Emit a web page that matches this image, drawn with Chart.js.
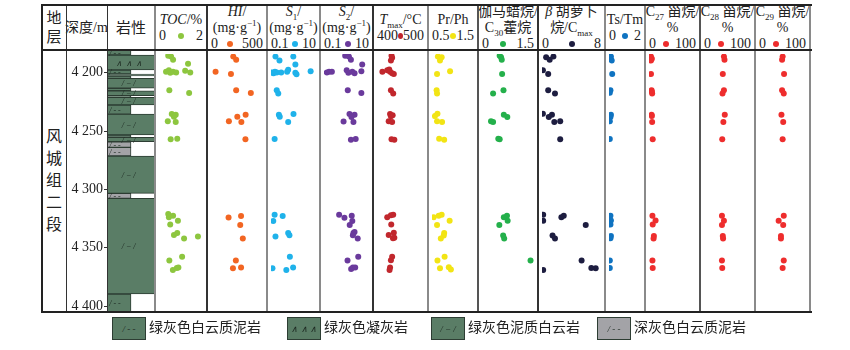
<!DOCTYPE html>
<html>
<head>
<meta charset="utf-8">
<script src="https://cdn.jsdelivr.net/npm/chart.js@4.4.1/dist/chart.umd.min.js"></script>
<style>
  body { margin: 0; background: #fff; }
  #wrap { position: relative; width: 850px; height: 350px; overflow: hidden;
          font-family: "Liberation Serif", "Noto Sans CJK SC", serif; color: #222; }
  .head { position: absolute; top: 5px; height: 45px; display: flex; flex-direction: column;
          justify-content: center; align-items: center; font-size: 14px; line-height: 16px;
          text-align: center; white-space: nowrap; }
  .scale { display: flex; justify-content: space-between; align-items: center;
           width: 100%; box-sizing: border-box; padding: 0 4px; }
  .dot { display: inline-block; width: 6px; height: 6px; border-radius: 50%; }
  sub, sup { font-size: 9px; line-height: 0; }
  canvas { position: absolute; }
  .ln { position: absolute; z-index: 5; }
  .sw { position: absolute; top: 317px; width: 34px; height: 23px; box-sizing: border-box;
        border: 1px solid #2d3d33; font: italic 9px "Liberation Serif"; color: #1d2a22;
        display: flex; align-items: center; justify-content: center; }
  .lt { position: absolute; top: 320px; font-size: 14px; line-height: 16px; }
</style>
</head>
<body>
<div id="wrap"></div>
<script>
// 深度范围与刻度
const depthMin = 4180.5;
const depthMax = 4405;
const depthTicks = [4200, 4250, 4300, 4350, 4400];

// 岩性分层（顶深、底深、岩性代码）
const litTop  = [4180.5, 4184.8, 4197.6, 4201.1, 4202.8, 4204.8, 4213.3, 4215.4, 4219.7, 4221.0,
                 4227.6, 4235.4, 4253.3, 4255.3, 4259.1, 4263.9, 4271.3, 4303.3, 4307.6, 4389.6];
const litBase = [4184.8, 4197.6, 4201.1, 4202.8, 4204.8, 4213.3, 4215.4, 4219.7, 4221.0, 4227.6,
                 4235.4, 4253.3, 4255.3, 4259.1, 4263.9, 4271.3, 4303.3, 4307.6, 4389.6, 4406];
const litType = ['A','B','A','C','A','C','A','C','A','C','A','C','A','C','D','D','C','D','C','A'];
const litNames = { A: '绿灰色白云质泥岩', B: '绿灰色凝灰岩', C: '绿灰色泥质白云岩', D: '深灰色白云质泥岩' };

// 各参数 [数值, 深度]
const toc = [[0.42,4182.0],[0.55,4182.8],[0.64,4185.6],[1.32,4189.1],[0.32,4196.2],[0.45,4194.8],[0.51,4197.0],
  [0.64,4196.2],[0.78,4196.8],[1.19,4195.3],[1.42,4196.8],[0.47,4212.5],[1.37,4215.0],[0.58,4233.6],[0.68,4235.9],
  [0.76,4234.2],[0.40,4239.9],[0.76,4240.5],[0.53,4255.9],[0.83,4255.3],[0.42,4321.9],[0.45,4324.7],[0.64,4323.4],
  [0.51,4331.3],[0.86,4327.9],[0.68,4340.5],[0.83,4338.8],[1.14,4343.6],[1.77,4341.9],[0.47,4363.1],[1.05,4359.6],
  [0.63,4371.4],[0.81,4369.6],[0.88,4369.3]];
const hi = [[214,4182.8],[242,4185.6],[44,4196.2],[192,4198.2],[242,4212.5],[383,4215.0],[253,4235.9],[333,4234.2],
  [172,4239.9],[292,4240.5],[331,4255.9],[169,4325.1],[289,4323.6],[281,4331.6],[306,4343.6],[239,4363.1],
  [211,4369.9],[289,4369.3]];
const s1 = [[0.158,4182.8],[0.238,4186.2],[0.98,4182.8],[1.21,4189.7],[0.112,4196.8],[0.13,4197.6],[0.15,4196.2],
  [0.18,4196.8],[0.284,4196.8],[0.52,4196.2],[0.58,4194.5],[1.21,4197.0],[1.36,4198.5],[5.78,4195.7],[0.18,4212.5],
  [0.21,4215.4],[0.224,4234.2],[0.245,4235.9],[1.0,4233.6],[0.58,4240.5],[0.145,4255.7],[0.145,4322.5],[0.33,4323.6],
  [0.126,4328.2],[0.158,4341.9],[0.58,4338.8],[0.66,4340.8],[0.69,4359.6],[0.116,4369.9],[0.48,4371.4],[0.96,4369.3]];
const s2 = [[0.877,4182.0],[1.28,4182.8],[1.57,4185.6],[4.99,4189.7],[0.133,4196.8],[0.168,4196.2],[0.224,4196.2],
  [1.02,4194.8],[1.21,4197.0],[1.81,4196.2],[2.28,4197.6],[4.57,4195.7],[1.14,4212.5],[4.57,4215.0],[1.36,4233.6],
  [2.28,4234.2],[1.66,4236.2],[0.74,4240.2],[2.04,4240.5],[1.57,4256.2],[2.56,4255.7],[0.47,4322.5],[0.81,4325.3],
  [1.71,4323.4],[1.81,4328.2],[1.39,4331.6],[2.04,4338.8],[2.28,4337.9],[1.92,4340.8],[3.15,4343.6],[1.11,4363.1],
  [3.32,4359.6],[1.61,4370.5],[1.92,4369.3],[2.43,4369.3]];
const tmax = [[430.9,4182.0],[432.2,4183.9],[429.6,4186.2],[411.5,4196.2],[421.8,4194.8],[426.0,4194.2],[427.8,4196.2],
  [432.2,4197.6],[435.8,4198.2],[429.6,4212.5],[434.5,4215.4],[427.8,4233.6],[433.3,4234.7],[429.6,4235.6],
  [424.9,4239.9],[432.2,4240.5],[430.9,4255.9],[436.9,4256.2],[421.8,4324.7],[429.6,4323.0],[434.5,4322.5],
  [430.3,4331.3],[424.9,4340.5],[435.8,4338.4],[436.9,4342.8],[434.0,4343.3],[432.2,4359.6],[429.6,4362.8],
  [427.8,4369.3],[426.7,4371.4]];
const prph = [[0.64,4182.8],[0.73,4183.3],[0.69,4186.2],[0.62,4198.2],[0.93,4195.7],[0.61,4212.5],[0.62,4215.4],
  [0.63,4233.4],[0.57,4235.4],[0.62,4239.9],[0.74,4240.5],[0.67,4255.3],[0.79,4256.2],[0.54,4324.7],[0.66,4323.4],
  [0.73,4322.5],[0.62,4331.6],[0.92,4327.9],[0.79,4338.8],[0.78,4341.0],[0.71,4343.6],[0.63,4363.1],[0.80,4359.6],
  [0.69,4369.9],[0.90,4369.0],[0.95,4371.0]];
const gamma = [[0.51,4182.0],[0.55,4183.3],[0.57,4185.6],[0.58,4198.2],[0.62,4212.5],[0.32,4215.4],[0.63,4234.2],
  [0.73,4236.2],[0.26,4239.9],[0.32,4240.5],[0.47,4255.3],[0.51,4255.9],[0.63,4324.7],[0.72,4323.4],[0.74,4327.9],
  [0.50,4331.6],[0.61,4341.0],[0.64,4343.6],[1.40,4363.1]];
const carotane = [[0.56,4183.3],[1.04,4185.6],[1.55,4182.8],[0.12,4194.8],[0.84,4198.2],[0.84,4212.5],[1.76,4215.4],
  [0.12,4233.4],[0.92,4236.2],[1.35,4234.2],[1.67,4240.5],[2.47,4239.9],[2.47,4255.9],[0.16,4322.5],[0.16,4327.9],
  [2.63,4324.7],[2.95,4323.4],[5.93,4331.6],[1.43,4341.0],[1.76,4343.6],[5.37,4363.1],[0.16,4371.4],[6.69,4369.6],
  [7.28,4369.9]];
const tstm = [[0.12,4182.8],[0.09,4184.8],[0.17,4186.2],[0.20,4198.2],[0.09,4212.5],[0.05,4214.8],[0.12,4234.2],
  [0.09,4236.2],[0.05,4239.9],[0.05,4255.7],[0.09,4323.4],[0.12,4327.7],[0.09,4331.3],[0.12,4341.4],[0.09,4343.3],
  [0.05,4363.1],[0.05,4369.6]];
const c27 = [[4.2,4182.8],[6.1,4184.8],[4.2,4186.2],[4.2,4198.2],[5.5,4212.5],[6.1,4213.9],[6.7,4215.4],[5.5,4234.2],
  [6.1,4235.4],[6.7,4240.5],[7.9,4255.9],[7.3,4323.4],[14.0,4327.7],[7.9,4331.3],[10.4,4341.4],[9.7,4343.6],
  [7.3,4363.1],[7.9,4369.6]];
const c28 = [[42.4,4182.8],[43.6,4185.6],[40.0,4198.2],[42.4,4212.5],[39.4,4215.4],[44.2,4234.2],[41.2,4240.5],
  [38.8,4255.9],[38.2,4323.4],[42.4,4327.9],[38.2,4331.6],[40.0,4341.4],[40.6,4343.6],[38.2,4363.1],[38.8,4369.6]];
const c29 = [[50.3,4182.8],[49.1,4185.6],[53.3,4198.2],[49.1,4212.5],[52.7,4215.4],[47.8,4234.2],[51.5,4240.5],
  [50.3,4255.9],[52.7,4323.4],[41.8,4327.9],[51.5,4331.6],[46.7,4341.4],[46.7,4343.6],[52.7,4363.1],[50.3,4369.6]];

// 各栏标题、刻度范围与刻度标签
const panelSeries = [toc, hi, s1, s2, tmax, prph, gamma, carotane, tstm, c27, c28, c29];
const panelMin   = [0, 0, 0.1, 0.1, 400, 0.5, 0, 0, 0, 0, 0, 0];
const panelMax   = [2, 500, 10, 10, 500, 1.5, 1.5, 8, 2, 100, 100, 100];
const panelLog   = [false, false, true, true, false, false, false, false, false, false, false, false];
const scaleLabels = [['0','2'],['0','500'],['0.1','10'],['0.1','10'],['400','500'],['0.5','1.5'],
                     ['0','1.5'],['0','8'],['0','2'],['0','100'],['0','100'],['0','100']];
const panelTitles = [
  '<div><i>TOC</i>/%</div>',
  '<div><i>HI</i>/</div><div>(mg·g<sup>−1</sup>)</div>',
  '<div><i>S</i><sub>1</sub>/</div><div>(mg·g<sup>−1</sup>)</div>',
  '<div><i>S</i><sub>2</sub>/</div><div>(mg·g<sup>−1</sup>)</div>',
  '<div><i>T</i><sub>max</sub>/°C</div>',
  '<div>Pr/Ph</div>',
  '<div>伽马蜡烷/</div><div>C<sub>30</sub>藿烷</div>',
  '<div><i>β</i> 胡萝卜</div><div>烷/C<sub>max</sub></div>',
  '<div>Ts/Tm</div>',
  '<div>C<sub>27</sub> 甾烷/</div><div>%</div>',
  '<div>C<sub>28</sub> 甾烷/</div><div>%</div>',
  '<div>C<sub>29</sub> 甾烷/</div><div>%</div>'
];
const panelColors = ['#8dc63f','#f26522','#1fb2ea','#6a3a9c','#c1272d','#f2e414','#24b04b','#1d1d40',
                     '#0f73c1','#ee2d2d','#ee2d2d','#ee2d2d'];

// 版面
const edges = [155, 207, 267, 320, 373, 428, 478, 538, 605, 645, 700, 755, 810];
const plotTop = 50, plotBottom = 312, litPad = 12;
const litStyle = {
  A: { fill: '#5a7d66', pat: '/ - -', narrow: true },
  B: { fill: '#5a7d66', pat: '∧  ∧  ∧', narrow: false },
  C: { fill: '#5a7d66', pat: '/ − /', narrow: false },
  D: { fill: '#a3a3a7', pat: '/ - -', narrow: true }
};

const wrap = document.getElementById('wrap');
function add(html) { wrap.insertAdjacentHTML('beforeend', html); }

// 表头
add(`<div class="head" style="left:42px;width:24px;font-size:15px;line-height:19px;">地<br>层</div>`);
add(`<div class="head" style="left:66px;width:41px;">深度/m</div>`);
add(`<div class="head" style="left:107px;width:48px;font-size:15px;">岩性</div>`);
panelTitles.forEach((t, i) => {
  const w = edges[i + 1] - edges[i];
  add(`<div class="head" style="left:${edges[i]}px;width:${w}px;">${t}
    <div class="scale"><span>${scaleLabels[i][0]}</span><span class="dot" style="background:${panelColors[i]}"></span><span>${scaleLabels[i][1]}</span></div></div>`);
});
add(`<div class="head" style="left:42px;width:24px;top:${plotTop}px;height:${plotBottom - plotTop}px;font-size:16px;line-height:22px;">风<br>城<br>组<br>二<br>段</div>`);

// 散点栏
panelSeries.forEach((pts, i) => {
  const c = document.createElement('canvas');
  c.width = edges[i + 1] - edges[i];
  c.height = plotBottom - plotTop;
  c.style.left = edges[i] + 'px';
  c.style.top = plotTop + 'px';
  wrap.appendChild(c);
  new Chart(c, {
    type: 'scatter',
    data: { datasets: [{
      data: pts.map(p => ({ x: p[0], y: p[1] })),
      backgroundColor: panelColors[i], borderWidth: 0, pointRadius: 3, clip: 0
    }] },
    options: {
      responsive: false, animation: false, devicePixelRatio: 1,
      layout: { padding: 0 },
      plugins: { legend: { display: false }, tooltip: { enabled: false } },
      scales: {
        x: { type: panelLog[i] ? 'logarithmic' : 'linear', min: panelMin[i], max: panelMax[i], display: false },
        y: { min: depthMin, max: depthMax, reverse: true, display: false }
      }
    }
  });
});

// 岩性栏（含深度轴）
const patternPlugin = {
  id: 'litPattern',
  afterDatasetsDraw(chart) {
    const ctx = chart.ctx, area = chart.chartArea;
    ctx.save();
    ctx.beginPath();
    ctx.rect(area.left, area.top, area.right - area.left, area.bottom - area.top);
    ctx.clip();
    ctx.font = 'italic 8px "Liberation Serif"';
    ctx.fillStyle = '#1d2a22';
    ctx.textAlign = 'center';
    ctx.textBaseline = 'middle';
    chart.data.datasets.forEach((ds, i) => {
      chart.getDatasetMeta(i).data.forEach(bar => {
        const y1 = Math.max(Math.min(bar.y, bar.base), area.top);
        const y2 = Math.min(Math.max(bar.y, bar.base), area.bottom);
        if (y2 - y1 < 4) return;
        const x = ds.xAxisID === 'xn' ? bar.x : area.left + (area.right - area.left) * 0.45;
        ctx.fillText(ds.pattern, x, (y1 + y2) / 2 + 1);
      });
    });
    ctx.restore();
  }
};

const litDatasets = Object.keys(litStyle).map(code => {
  const st = litStyle[code];
  const data = [];
  litType.forEach((t, k) => {
    if (t === code) data.push({ x: st.narrow ? 'n1' : '岩性', y: [litTop[k], litBase[k]] });
  });
  return {
    label: litNames[code], data, pattern: st.pat,
    xAxisID: st.narrow ? 'xn' : 'x',
    backgroundColor: st.fill, borderColor: '#2d3d33', borderWidth: 1, borderSkipped: false,
    barPercentage: 1, categoryPercentage: 1, grouped: false
  };
});

const lc = document.createElement('canvas');
lc.width = 155 - 66;
lc.height = plotBottom - plotTop + 2 * litPad;
lc.style.left = '66px';
lc.style.top = (plotTop - litPad) + 'px';
wrap.appendChild(lc);
new Chart(lc, {
  type: 'bar',
  data: { datasets: litDatasets },
  plugins: [patternPlugin],
  options: {
    responsive: false, animation: false, devicePixelRatio: 1,
    layout: { padding: { top: litPad, bottom: litPad } },
    plugins: { legend: { display: false }, tooltip: { enabled: false } },
    scales: {
      x: { type: 'category', labels: ['岩性'], display: false, offset: true },
      xn: { type: 'category', labels: ['n1', 'n2', 'n3'], display: false, offset: true },
      y: {
        min: depthMin, max: depthMax, reverse: true, position: 'left',
        afterFit: s => { s.width = 41; },
        afterBuildTicks: s => { s.ticks = depthTicks.map(v => ({ value: v })); },
        border: { display: false },
        grid: { drawOnChartArea: false, drawTicks: true, tickLength: 3, color: '#333' },
        ticks: {
          padding: 1, color: '#222', font: { family: '"Liberation Serif"', size: 14 },
          callback: v => String(v).replace(/(\d)(\d{3})$/, '$1 $2')
        }
      }
    }
  }
});

// 表格线
const vLines = [[42,'#222',1.5],[66,'#333',1],[107,'#333',1],[155,'#8a8a8a',2],[207,'#333',1.5],[267,'#8a8a8a',2],
  [320,'#8a8a8a',2],[373,'#333',1.5],[428,'#8a8a8a',2],[478,'#555',1.5],[538,'#333',1.5],[605,'#8a8a8a',2],
  [645,'#8a8a8a',2],[700,'#555',1.5],[755,'#8a8a8a',2],[810,'#8a8a8a',2]];
vLines.forEach(([x, c, w]) => {
  add(`<div class="ln" style="left:${x - w / 2}px;top:5px;width:${w}px;height:${plotBottom - 5}px;background:${c}"></div>`);
});
[5, plotTop, plotBottom].forEach(y => {
  add(`<div class="ln" style="left:41px;top:${y - 0.75}px;width:771px;height:1.5px;background:#222"></div>`);
});

// 图例
const legendX = [112, 287, 431, 597];
['A', 'B', 'C', 'D'].forEach((code, i) => {
  const st = litStyle[code];
  add(`<div class="sw" style="left:${legendX[i]}px;background:${st.fill}">${st.pat}</div>`);
  add(`<div class="lt" style="left:${legendX[i] + 37}px">${litNames[code]}</div>`);
});
</script>
</body>
</html>
